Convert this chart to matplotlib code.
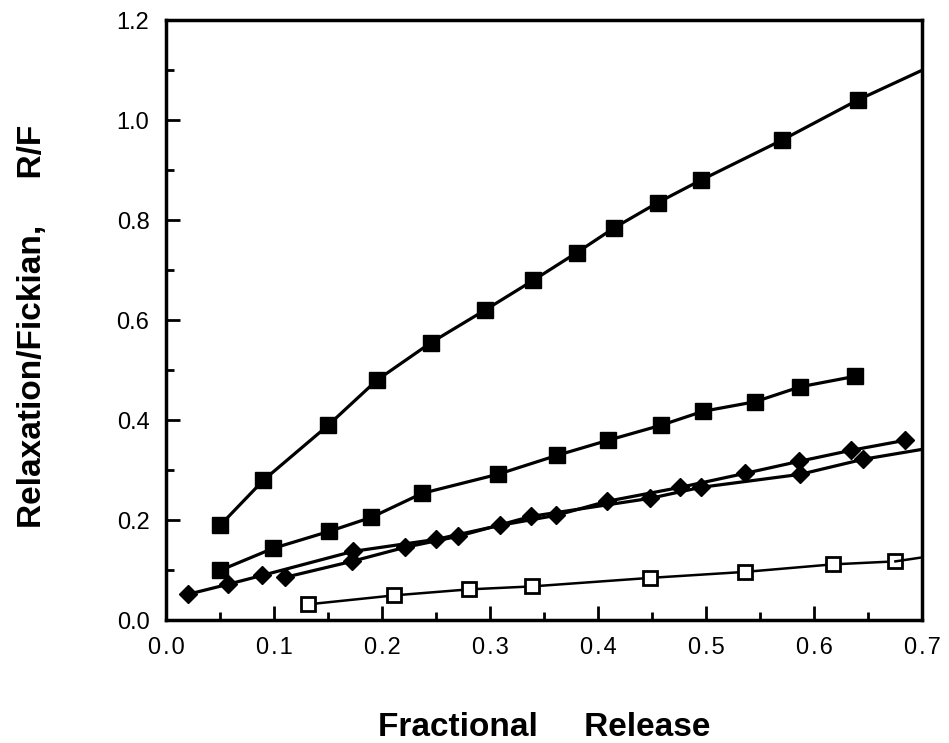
import matplotlib.pyplot as plt
from matplotlib.ticker import MultipleLocator

plt.rcParams['font.family'] = ['Liberation Sans', 'DejaVu Sans']

# top curve, filled squares
top_x = [0.05, 0.09, 0.15, 0.195, 0.245, 0.295, 0.34, 0.38, 0.415, 0.455, 0.495, 0.57, 0.64]
top_y = [0.19, 0.28, 0.39, 0.48, 0.555, 0.62, 0.68, 0.735, 0.785, 0.835, 0.88, 0.96, 1.04]
top_end_x = [0.64, 0.7]
top_end_y = [1.04, 1.10]

# second curve, filled squares
mid_x = [0.05, 0.099, 0.151, 0.19, 0.237, 0.307, 0.362, 0.409, 0.458, 0.497, 0.545, 0.587, 0.638]
mid_y = [0.10, 0.144, 0.178, 0.206, 0.254, 0.292, 0.33, 0.36, 0.39, 0.418, 0.437, 0.467, 0.488]

# diamonds, two runs
diaA_x = [0.02, 0.057, 0.089, 0.173, 0.25, 0.309, 0.361, 0.408, 0.476, 0.536, 0.586, 0.634, 0.684]
diaA_y = [0.052, 0.072, 0.09, 0.138, 0.162, 0.19, 0.21, 0.238, 0.266, 0.294, 0.318, 0.34, 0.36]
diaB_x = [0.11, 0.172, 0.221, 0.27, 0.338, 0.448, 0.495, 0.587, 0.645]
diaB_y = [0.086, 0.118, 0.146, 0.168, 0.208, 0.244, 0.266, 0.292, 0.322]
diaB_end_x = [0.645, 0.7]
diaB_end_y = [0.322, 0.342]

# open squares
low_x = [0.131, 0.211, 0.28, 0.339, 0.448, 0.536, 0.617, 0.675]
low_y = [0.032, 0.05, 0.062, 0.068, 0.085, 0.097, 0.112, 0.118]
low_end_x = [0.675, 0.7]
low_end_y = [0.118, 0.126]

xticks = [0.0, 0.1, 0.2, 0.3, 0.4, 0.5, 0.6, 0.7]
yticks = [0.0, 0.2, 0.4, 0.6, 0.8, 1.0, 1.2]

fig = plt.figure(figsize=(9.49, 7.43), dpi=100)
ax = fig.add_axes([0.175, 0.165, 0.797, 0.808])

lw = 2.3
ax.plot(top_x, top_y, '-s', color='black', lw=lw, ms=11)
ax.plot(top_end_x, top_end_y, '-', color='black', lw=lw)
ax.plot(mid_x, mid_y, '-s', color='black', lw=lw, ms=11)
ax.plot(diaA_x, diaA_y, '-D', color='black', lw=lw, ms=9.5)
ax.plot(diaB_x, diaB_y, '-D', color='black', lw=lw, ms=9.5)
ax.plot(diaB_end_x, diaB_end_y, '-', color='black', lw=lw)
ax.plot(low_x, low_y, '-s', color='black', lw=1.8, ms=9.5, mfc='white', mew=2)
ax.plot(low_end_x, low_end_y, '-', color='black', lw=1.8)

ax.set_xlim(0, 0.7)
ax.set_ylim(0, 1.2)
ax.set_xticks(xticks)
ax.set_yticks(yticks)
# slightly spaced digits like the original typesetting
ax.set_xticklabels([('%.1f' % v).replace('.', '\u200a.\u200a') for v in xticks], fontsize=17)
ax.set_yticklabels(['%.1f' % v for v in yticks], fontsize=17)
ax.xaxis.set_minor_locator(MultipleLocator(0.05))
ax.yaxis.set_minor_locator(MultipleLocator(0.1))
ax.tick_params(which='major', direction='in', length=10, width=2)
ax.tick_params(which='minor', direction='in', length=6, width=2)
ax.tick_params(axis='x', which='major', pad=12)
ax.tick_params(axis='y', which='major', pad=12)
for s in ax.spines.values():
    s.set_linewidth(2.5)

ax.set_xlabel('Fractional     Release', fontsize=24, fontweight='bold')
ax.set_ylabel('Relaxation/Fickian,     R/F', fontsize=24, fontweight='bold')
ax.xaxis.set_label_coords(0.5, -0.152)
ax.yaxis.set_label_coords(-0.156, 0.49)

fig.savefig('out.png', dpi=100)
